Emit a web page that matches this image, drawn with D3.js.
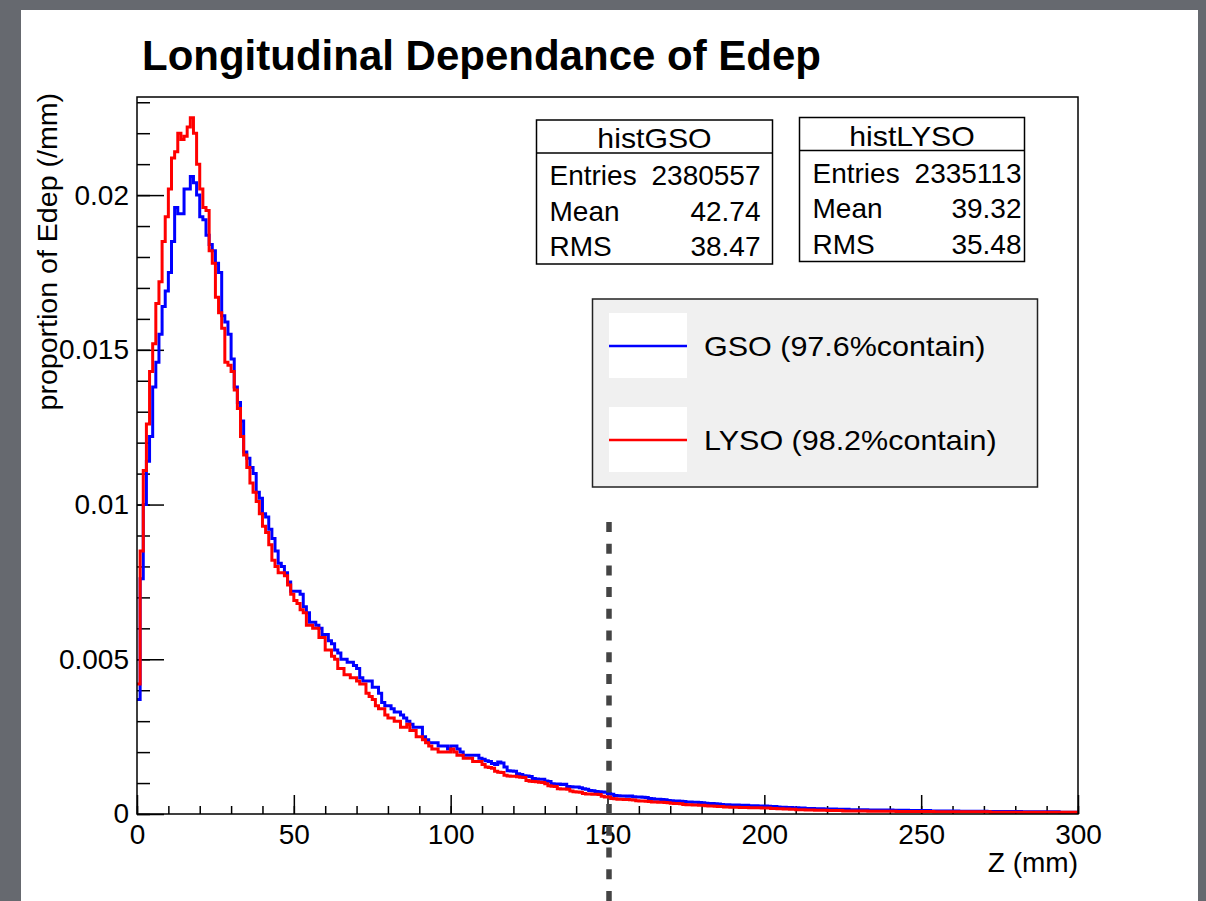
<!DOCTYPE html>
<html>
<head>
<meta charset="utf-8">
<script src="https://cdn.jsdelivr.net/npm/d3@7"></script>
<style>
	body { margin: 0; background: #66696f; }
	svg { display: block; }
	text { font-family: "Liberation Sans", Arial, Helvetica, sans-serif; fill: #000; }
</style>
</head>
<body>
<svg></svg>
<script>
const svgWidth = 1206;
const svgHeight = 901;

// bin contents, 1 mm bins from 0 to 300 mm
const gsoValues = [
	0.0037, 0.0076, 0.0100, 0.0114, 0.0122, 0.0138, 0.0146, 0.0155, 0.0164, 0.0169,
	0.0175, 0.0185, 0.0196, 0.0194, 0.0194, 0.0202, 0.0202, 0.0206, 0.0204, 0.0200,
	0.0193, 0.0192, 0.0187, 0.0184, 0.0182, 0.0178, 0.0175, 0.0161, 0.0159, 0.0155,
	0.0147, 0.0138, 0.0133, 0.0127, 0.0117, 0.0115, 0.0112, 0.0110, 0.0104, 0.0102,
	0.0097, 0.0096, 0.0092, 0.0089, 0.0085, 0.0081, 0.0080, 0.0078, 0.0075, 0.0072,
	0.0072, 0.0072, 0.0071, 0.0067, 0.0065, 0.0062, 0.0062, 0.0061, 0.0060, 0.0058,
	0.0058, 0.0056, 0.0055, 0.0053, 0.0052, 0.0050, 0.0050, 0.0049, 0.0049, 0.0048,
	0.0047, 0.0044, 0.0043, 0.0043, 0.0043, 0.0041, 0.0041, 0.0039, 0.0036, 0.0035,
	0.0035, 0.0034, 0.0033, 0.0033, 0.0032, 0.0031, 0.0030, 0.0029, 0.0028, 0.0028,
	0.0028, 0.0025, 0.0024, 0.0023, 0.0023, 0.0023, 0.0022, 0.0022, 0.0022, 0.0021,
	0.0022, 0.0022, 0.0021, 0.0020, 0.0019, 0.0019, 0.0019, 0.0019, 0.0019, 0.0018,
	0.00177, 0.00172, 0.00170, 0.00163, 0.00160, 0.00168, 0.00165, 0.00152, 0.00140, 0.00139,
	0.00138, 0.00130, 0.00128, 0.00124, 0.00123, 0.00121, 0.00115, 0.00113, 0.00112, 0.00112,
	0.00107, 0.00105, 0.00098, 0.00097, 0.00097, 0.00095, 0.00096, 0.00089, 0.00088, 0.00087,
	0.00087, 0.00085, 0.00082, 0.00080, 0.00076, 0.00075, 0.00073, 0.00072, 0.00071, 0.00070,
	0.00066, 0.00064, 0.00060, 0.00059, 0.00058, 0.00058, 0.00057, 0.00058, 0.00056, 0.00055,
	0.00055, 0.00054, 0.00053, 0.00050, 0.00049, 0.00048, 0.00048, 0.00047, 0.00046, 0.00044,
	0.00043, 0.00042, 0.00042, 0.00041, 0.00040, 0.00039, 0.00039, 0.00038, 0.00038, 0.00037,
	0.00036, 0.00035, 0.00034, 0.00034, 0.00033, 0.00032, 0.00031, 0.00030, 0.00030, 0.00029,
	0.00029, 0.00029, 0.00028, 0.00028, 0.00028, 0.00027, 0.00027, 0.00027, 0.00026, 0.00026,
	0.00026, 0.00025, 0.00024, 0.00024, 0.00023, 0.00022, 0.00022, 0.00021, 0.00021, 0.00020,
	0.00020, 0.00019, 0.00019, 0.00018, 0.00018, 0.00018, 0.00017, 0.00017, 0.00017, 0.00016,
	0.00016, 0.00016, 0.00016, 0.00015, 0.00015, 0.00015, 0.00015, 0.00014, 0.00014, 0.00014,
	0.00014, 0.00014, 0.00014, 0.00013, 0.00013, 0.00013, 0.00013, 0.00013, 0.00013, 0.00013,
	0.00013, 0.00012, 0.00012, 0.00012, 0.00012, 0.00012, 0.00011, 0.00011, 0.00011, 0.00011,
	0.00011, 0.00011, 0.00011, 0.00010, 0.00010, 0.00010, 0.00010, 0.00010, 0.00010, 0.00010,
	0.00010, 0.00010, 0.00009, 0.00009, 0.00009, 0.00009, 0.00009, 0.00009, 0.00009, 0.00009,
	0.00009, 0.00008, 0.00008, 0.00008, 0.00008, 0.00008, 0.00008, 0.00008, 0.00008, 0.00008,
	0.00008, 0.00008, 0.00007, 0.00007, 0.00007, 0.00007, 0.00007, 0.00007, 0.00007, 0.00007,
	0.00007, 0.00007, 0.00007, 0.00007, 0.00006, 0.00006, 0.00006, 0.00006, 0.00006, 0.00006
];

const lysoValues = [
	0.0042, 0.0085, 0.0111, 0.0126, 0.0143, 0.0152, 0.0165, 0.0172, 0.0185, 0.0193,
	0.0202, 0.0212, 0.0214, 0.0220, 0.0218, 0.0219, 0.0222, 0.0225, 0.0220, 0.0210,
	0.0202, 0.0196, 0.0195, 0.0182, 0.0178, 0.0167, 0.0162, 0.0157, 0.0146, 0.0145,
	0.0143, 0.0137, 0.0131, 0.0122, 0.0116, 0.0112, 0.0107, 0.0104, 0.0101, 0.0097,
	0.0093, 0.0091, 0.0087, 0.0082, 0.0080, 0.0078, 0.0078, 0.0077, 0.0074, 0.0071,
	0.0069, 0.0068, 0.0066, 0.0065, 0.0061, 0.0061, 0.0060, 0.0060, 0.0057, 0.0057,
	0.0053, 0.0053, 0.0051, 0.0050, 0.0047, 0.0047, 0.0045, 0.0045, 0.0044, 0.0044,
	0.0043, 0.0042, 0.0042, 0.0039, 0.0038, 0.0037, 0.0035, 0.0034, 0.0034, 0.0032,
	0.0031, 0.0031, 0.0030, 0.0030, 0.0028, 0.0028, 0.0029, 0.0027, 0.0027, 0.0025,
	0.0025, 0.0024, 0.0023, 0.0022, 0.0021, 0.0021, 0.0020, 0.0020, 0.0020, 0.0020,
	0.0021, 0.0020, 0.0019, 0.0019, 0.0018, 0.0018, 0.0018, 0.0017, 0.0017, 0.0017,
	0.00160, 0.00152, 0.00150, 0.00148, 0.00138, 0.00135, 0.00134, 0.00125, 0.00123, 0.00122,
	0.00122, 0.00120, 0.00119, 0.00118, 0.00108, 0.00106, 0.00105, 0.00104, 0.00103, 0.00102,
	0.00098, 0.00091, 0.00090, 0.00089, 0.00082, 0.00081, 0.00081, 0.00080, 0.00074, 0.00072,
	0.00071, 0.00070, 0.00066, 0.00065, 0.00065, 0.00064, 0.00064, 0.00063, 0.00057, 0.00055,
	0.00055, 0.00050, 0.00049, 0.00048, 0.00048, 0.00047, 0.00047, 0.00046, 0.00045, 0.00043,
	0.00042, 0.00042, 0.00041, 0.00040, 0.00039, 0.00039, 0.00038, 0.00038, 0.00037, 0.00036,
	0.00035, 0.00034, 0.00034, 0.00033, 0.00031, 0.00030, 0.00030, 0.00029, 0.00029, 0.00028,
	0.00028, 0.00027, 0.00026, 0.00026, 0.00025, 0.00024, 0.00024, 0.00023, 0.00023, 0.00022,
	0.00022, 0.00022, 0.00021, 0.00021, 0.00021, 0.00020, 0.00020, 0.00020, 0.00020, 0.00019,
	0.00019, 0.00019, 0.00018, 0.00018, 0.00017, 0.00017, 0.00016, 0.00016, 0.00015, 0.00015,
	0.00014, 0.00014, 0.00014, 0.00013, 0.00013, 0.00013, 0.00012, 0.00012, 0.00012, 0.00012,
	0.00011, 0.00011, 0.00011, 0.00011, 0.00011, 0.00010, 0.00010, 0.00010, 0.00010, 0.00010,
	0.00010, 0.00010, 0.00010, 0.00009, 0.00009, 0.00009, 0.00009, 0.00009, 0.00009, 0.00009,
	0.00009, 0.00009, 0.00008, 0.00008, 0.00008, 0.00008, 0.00008, 0.00008, 0.00008, 0.00008,
	0.00008, 0.00008, 0.00008, 0.00008, 0.00007, 0.00007, 0.00007, 0.00007, 0.00007, 0.00007,
	0.00007, 0.00007, 0.00007, 0.00007, 0.00007, 0.00007, 0.00007, 0.00007, 0.00007, 0.00007,
	0.00007, 0.00007, 0.00006, 0.00006, 0.00006, 0.00006, 0.00006, 0.00006, 0.00006, 0.00006,
	0.00006, 0.00006, 0.00006, 0.00006, 0.00006, 0.00006, 0.00006, 0.00006, 0.00006, 0.00006,
	0.00006, 0.00006, 0.00006, 0.00006, 0.00006, 0.00006, 0.00006, 0.00006, 0.00006, 0.00006
];

const binWidth = 1;
const xMajorTicks = [0, 50, 100, 150, 200, 250, 300];
const xMinorTicks = d3.range(0, 301, 10);
const yMajorTicks = [0, 0.005, 0.01, 0.015, 0.02];
const yTickLabels = ["0", "0.005", "0.01", "0.015", "0.02"];
const yMinorTicks = d3.range(0, 24).map(d => d / 1000);
const containCut = 150;

const statsGSO = [["Entries", "2380557"], ["Mean", "42.74"], ["RMS", "38.47"]];
const statsLYSO = [["Entries", "2335113"], ["Mean", "39.32"], ["RMS", "35.48"]];
const legendLabels = ["GSO (97.6%contain)", "LYSO (98.2%contain)"];
const seriesColors = ["#0000ff", "#ff0000"];

const frame = {left: 137, top: 97, right: 1078, bottom: 814};

const svg = d3.select("svg")
				.attr("width", svgWidth)
				.attr("height", svgHeight);

// slide background + white canvas
svg.append("rect")
	.attr("width", svgWidth)
	.attr("height", svgHeight)
	.attr("fill", "#66696f");
svg.append("rect")
	.attr("x", 21)
	.attr("y", 10)
	.attr("width", 1177)
	.attr("height", 900)
	.attr("fill", "#ffffff");

const xScale = d3.scaleLinear()
				.domain([0, 300])
				.range([frame.left, frame.right]);
const yScale = d3.scaleLinear()
				.domain([0, 0.02317])
				.range([frame.bottom, frame.top]);

// stretch a text a bit wider (the original text is a little wider than Liberation)
function widen (sel, k) {
	sel.each(function () {
		let len = this.getComputedTextLength();
		d3.select(this)
			.attr("textLength", len * k)
			.attr("lengthAdjust", "spacingAndGlyphs");
	});
}

// Title
svg.append("text")
	.text("Longitudinal Dependance of Edep")
	.attr("x", 142)
	.attr("y", 70)
	.attr("font-size", "42px")
	.attr("font-weight", "bold");

// minor ticks
svg.append("g")
	.attr("transform", `translate(${frame.left},0)`)
	.call(d3.axisLeft(yScale).tickValues(yMinorTicks).tickSize(-13).tickFormat(""))
	.call(g => g.select(".domain").remove());
svg.append("g")
	.attr("transform", `translate(0,${frame.bottom})`)
	.call(d3.axisBottom(xScale).tickValues(xMinorTicks).tickSize(-8).tickFormat(""))
	.call(g => g.select(".domain").remove());

// major ticks + labels
svg.append("g")
	.attr("transform", `translate(${frame.left},0)`)
	.call(d3.axisLeft(yScale).tickValues(yMajorTicks).tickSize(-27).tickPadding(8)
		.tickFormat((d, i) => yTickLabels[i]))
	.call(g => g.select(".domain").remove())
	.call(g => g.selectAll("text").attr("font-size", "28px").attr("font-family", null));
svg.append("g")
	.attr("transform", `translate(0,${frame.bottom})`)
	.call(d3.axisBottom(xScale).tickValues(xMajorTicks).tickSize(-19).tickPadding(10))
	.call(g => g.select(".domain").remove())
	.call(g => g.selectAll("text").attr("font-size", "28px").attr("font-family", null));

svg.selectAll(".tick line")
	.attr("stroke", "#000")
	.attr("stroke-width", 1.5);

// Axes labels
svg.append("text")
	.text("Z (mm)")
	.attr("x", frame.right)
	.attr("y", 872)
	.attr("font-size", "28px")
	.attr("text-anchor", "end");
svg.append("text")
	.text("proportion of Edep (/mm)")
	.attr("transform", "rotate(-90)")
	.attr("x", -frame.top + 4)
	.attr("y", 57)
	.attr("font-size", "28px")
	.attr("text-anchor", "end")
	.call(widen, 1.02);

// histograms
const stepLine = d3.line()
				.x(d => xScale(d[0]))
				.y(d => yScale(d[1]))
				.curve(d3.curveStepAfter);

[gsoValues, lysoValues].forEach((vals, k) => {
	let pts = vals.map((v, i) => [i * binWidth, v]);
	pts.push([vals.length * binWidth, vals[vals.length - 1]]);
	svg.append("path")
		.datum(pts)
		.attr("d", stepLine)
		.attr("fill", "none")
		.attr("stroke", seriesColors[k])
		.attr("stroke-width", 3)
		.attr("stroke-linejoin", "miter");
});

// frame
svg.append("rect")
	.attr("x", frame.left)
	.attr("y", frame.top)
	.attr("width", frame.right - frame.left)
	.attr("height", frame.bottom - frame.top)
	.attr("fill", "none")
	.attr("stroke", "#000")
	.attr("stroke-width", 1.5);

// containment cut
svg.append("line")
	.attr("x1", xScale(containCut) + 1.5)
	.attr("x2", xScale(containCut) + 1.5)
	.attr("y1", 522)
	.attr("y2", svgHeight)
	.attr("stroke", "#444")
	.attr("stroke-width", 5.5)
	.attr("stroke-dasharray", "10 11.7");

// stat boxes
function drawStats (stats, name, x0, y0, w, padRight) {
	let g = svg.append("g");
	g.append("rect")
		.attr("x", x0).attr("y", y0)
		.attr("width", w).attr("height", 144)
		.attr("fill", "#fff")
		.attr("stroke", "#000")
		.attr("stroke-width", 1.5);
	g.append("line")
		.attr("x1", x0).attr("x2", x0 + w)
		.attr("y1", y0 + 33).attr("y2", y0 + 33)
		.attr("stroke", "#000")
		.attr("stroke-width", 1.5);
	g.append("text")
		.text(name)
		.attr("x", x0 + w / 2)
		.attr("y", y0 + 28)
		.attr("font-size", "28px")
		.attr("text-anchor", "middle")
		.call(widen, 1.08);
	stats.forEach((s, i) => {
		g.append("text")
			.text(s[0])
			.attr("x", x0 + 13)
			.attr("y", y0 + 65 + i * 35.5)
			.attr("font-size", "28px");
		g.append("text")
			.text(s[1])
			.attr("x", x0 + w - padRight)
			.attr("y", y0 + 65 + i * 35.5)
			.attr("font-size", "28px")
			.attr("text-anchor", "end");
	});
}
drawStats(statsGSO, "histGSO", 536.5, 120, 236, 12);
drawStats(statsLYSO, "histLYSO", 799.5, 117.5, 225, 3);

// legend
svg.append("rect")
	.attr("x", 592.5)
	.attr("y", 299)
	.attr("width", 445)
	.attr("height", 188)
	.attr("fill", "#f0f0f0")
	.attr("stroke", "#222")
	.attr("stroke-width", 1.5);
legendLabels.forEach((label, i) => {
	let yc = 346 + i * 94;
	svg.append("rect")
		.attr("x", 609).attr("y", yc - 33)
		.attr("width", 78).attr("height", 65)
		.attr("fill", "#fff");
	svg.append("line")
		.attr("x1", 609).attr("x2", 687)
		.attr("y1", yc).attr("y2", yc)
		.attr("stroke", seriesColors[i])
		.attr("stroke-width", 2.5);
	svg.append("text")
		.text(label)
		.attr("x", 704)
		.attr("y", yc + 10)
		.attr("font-size", "28.5px")
		.call(widen, 1.07);
});
</script>
</body>
</html>
